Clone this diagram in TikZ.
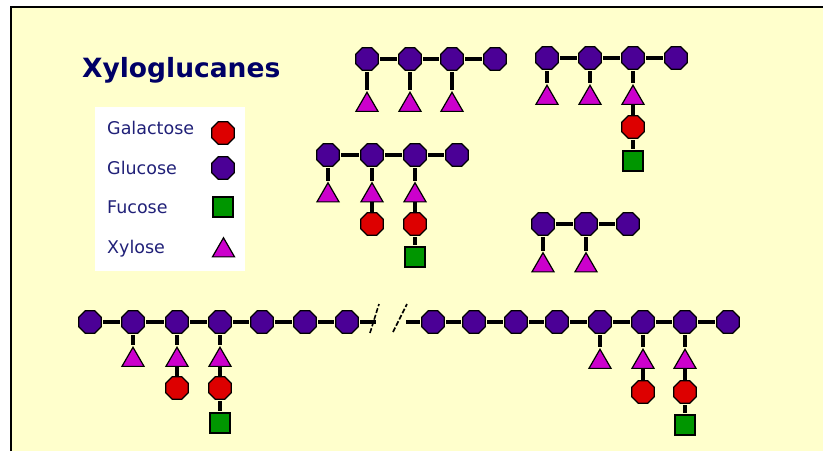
\documentclass[tikz,border=0pt]{standalone}
\usepackage{fontspec}
\setmainfont{DejaVu Sans}
\usetikzlibrary{shapes.geometric}

\definecolor{paper}{RGB}{255,255,204}
\definecolor{glucosec}{RGB}{75,0,150}
\definecolor{galactosec}{RGB}{221,0,0}
\definecolor{fucosec}{RGB}{0,150,0}
\definecolor{xylosec}{RGB}{204,0,204}
\definecolor{titleblue}{RGB}{0,0,102}
\definecolor{legendblue}{RGB}{32,32,120}

\begin{document}
\begin{tikzpicture}[x=1pt,y=-1pt,
  sugar/.style={draw=black,line width=1.2pt,inner sep=0pt,outer sep=0pt},
  octo/.style={sugar,regular polygon,regular polygon sides=8,minimum size=24.5pt},
  glc/.style={octo,fill=glucosec},
  gal/.style={octo,fill=galactosec},
  fuc/.style={sugar,rectangle,minimum size=20pt,fill=fucosec},
  xyl/.style={sugar,regular polygon,regular polygon sides=3,minimum size=25.5pt,fill=xylosec},
  link/.style={line width=3.2pt,shorten <=2pt,shorten >=2pt},
  bond/.style={line width=3.2pt},
  slash/.style={line width=1.6pt,dash pattern=on 5pt off 2pt},
  legtext/.style={anchor=base west,inner sep=0pt,text=legendblue,font=\fontsize{17.5}{20}\selectfont}]

\useasboundingbox (0,0) rectangle (823,451);
\fill[white] (0,0) rectangle (823,451);
\fill[paper] (11,7) rectangle (823,451);
\draw[line width=2pt] (11,451) -- (11,7) -- (823,7);

% title
\node[anchor=base west,inner sep=0pt,text=titleblue,font=\bfseries\fontsize{26.5}{30}\selectfont] (title) at (82,77) {Xyloglucanes};

% legend
\fill[white] (95,107) rectangle (245,271);
\node[legtext] (lgal) at (107,134.5) {Galactose};
\node[legtext] (lglc) at (107,174) {Glucose};
\node[legtext] (lfuc) at (107,213.5) {Fucose};
\node[legtext] (lxyl) at (107,253) {Xylose};
\node[gal] (kgal) at (223,133) {};
\node[glc] (kglc) at (223,168) {};
\node[fuc] (kfuc) at (223,207) {};
\node[xyl] (kxyl) at (223.5,250.5) {};

% chain A: four glucose, three xylose
\foreach \x [count=\i] in {367,410,452,495} \node[glc] (a\i) at (\x,59) {};
\foreach \x [count=\i] in {367,410,452} \node[xyl] (ax\i) at (\x,105) {};
\foreach \p/\q in {a1/a2,a2/a3,a3/a4,a1/ax1,a2/ax2,a3/ax3} \draw[link] (\p) -- (\q);

% chain B: third xylose carries galactose and fucose
\foreach \x [count=\i] in {547,590,633,676} \node[glc] (b\i) at (\x,58) {};
\foreach \x [count=\i] in {547,590,633} \node[xyl] (bx\i) at (\x,98) {};
\node[gal] (bg3) at (633,127) {};
\node[fuc] (bf3) at (633,161) {};
\foreach \p/\q in {b1/b2,b2/b3,b3/b4,b1/bx1,b2/bx2,b3/bx3,bg3/bf3} \draw[link] (\p) -- (\q);
\draw[bond] (bx3) -- (bg3);

% chain C
\foreach \x [count=\i] in {328,372,415,457} \node[glc] (c\i) at (\x,155) {};
\foreach \x [count=\i] in {328,372,415} \node[xyl] (cx\i) at (\x,195.5) {};
\node[gal] (cg2) at (372,224) {};
\node[gal] (cg3) at (415,224) {};
\node[fuc] (cf3) at (415,257) {};
\foreach \p/\q in {c1/c2,c2/c3,c3/c4,c1/cx1,c2/cx2,c3/cx3,cg3/cf3} \draw[link] (\p) -- (\q);
\draw[bond] (cx2) -- (cg2);
\draw[bond] (cx3) -- (cg3);

% chain D
\foreach \x [count=\i] in {543,586,628} \node[glc] (d\i) at (\x,224) {};
\foreach \x [count=\i] in {543,586} \node[xyl] (dx\i) at (\x,265.5) {};
\foreach \p/\q in {d1/d2,d2/d3,d1/dx1,d2/dx2} \draw[link] (\p) -- (\q);

% long backbone, interrupted
\foreach \x [count=\i] in {90,133,177,220,262,305,347,433,474,516,557,600,643,685,728} \node[glc] (e\i) at (\x,322) {};
\foreach \x [count=\i] in {133,177,220} \node[xyl] (ex\i) at (\x,360) {};
\foreach \x [count=\i] in {600,643,685} \node[xyl] (fx\i) at (\x,362) {};
\node[gal] (eg2) at (177,388) {};
\node[gal] (eg3) at (220,388) {};
\node[fuc] (ef3) at (220,423) {};
\node[gal] (fg2) at (643,392) {};
\node[gal] (fg3) at (685,392) {};
\node[fuc] (ff3) at (685,425) {};
\foreach \p/\q in {e1/e2,e2/e3,e3/e4,e4/e5,e5/e6,e6/e7,e8/e9,e9/e10,e10/e11,e11/e12,e12/e13,e13/e14,e14/e15,
                   e2/ex1,e3/ex2,e4/ex3,e12/fx1,e13/fx2,e14/fx3,eg3/ef3,fg3/ff3} \draw[link] (\p) -- (\q);
\draw[bond] (ex2) -- (eg2);
\draw[bond] (ex3) -- (eg3);
\draw[bond] (fx2) -- (fg2);
\draw[bond] (fx3) -- (fg3);

% break mark
\coordinate (brkL) at (376,322);
\coordinate (brkR) at (406,322);
\draw[link,shorten >=0pt] (e7) -- (brkL);
\draw[link,shorten <=0pt] (brkR) -- (e8);
\coordinate (s1a) at (370,333);
\coordinate (s1b) at (379,304);
\coordinate (s2a) at (393,332);
\coordinate (s2b) at (407,304);
\draw[slash] (s1a) -- (s1b);
\draw[slash] (s2a) -- (s2b);
\end{tikzpicture}
\end{document}
